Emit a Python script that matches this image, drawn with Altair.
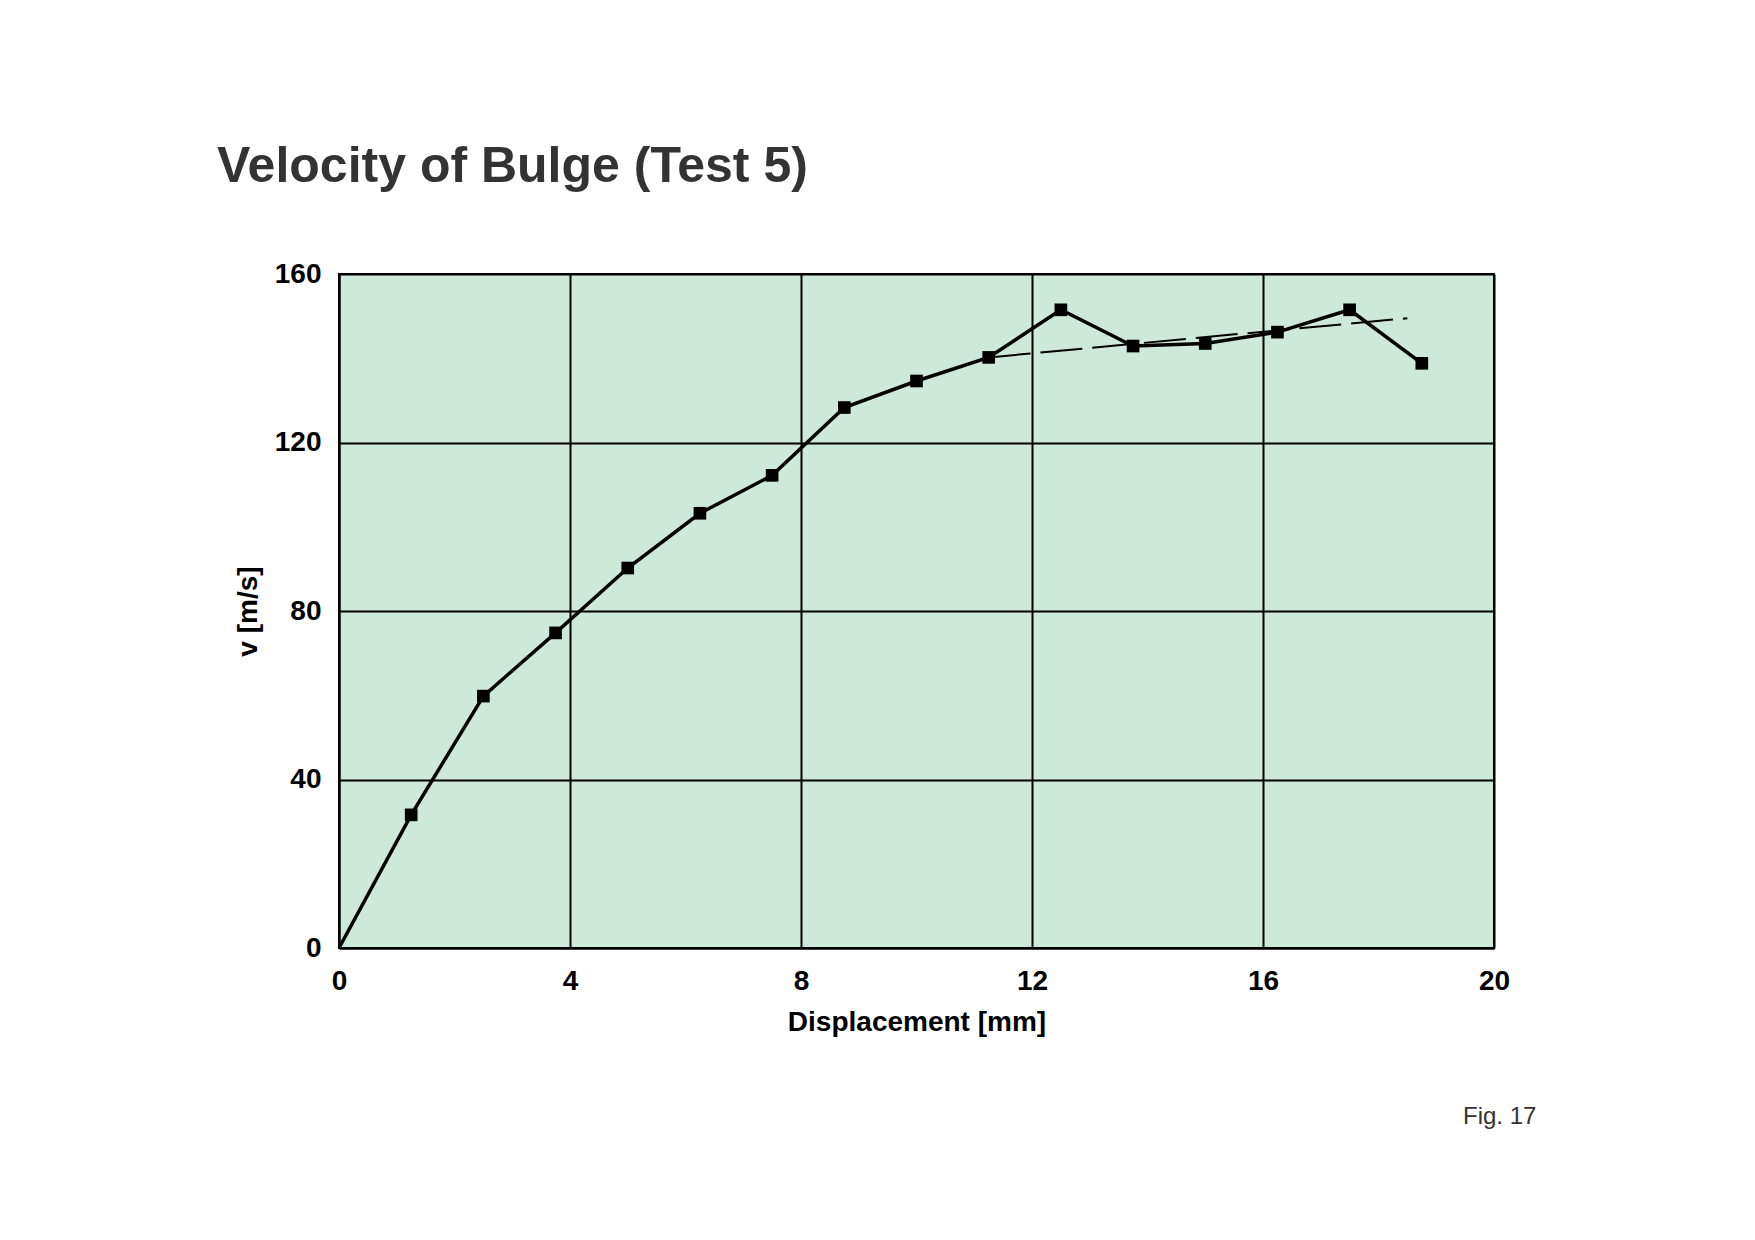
import altair as alt
import pandas as pd

# ---- data ----
displacement = [0, 1.25, 2.5, 3.75, 5.0, 6.25, 7.5, 8.75, 10.0, 11.25, 12.5, 13.75, 15.0, 16.25, 17.5, 18.75]
velocity = [0, 31.6, 59.8, 74.8, 90.2, 103.2, 112.2, 128.3, 134.6, 140.2, 151.5, 142.9, 143.5, 146.2, 151.5, 138.8]

trend_x = [11.25, 18.5]
trend_y = [140.2, 149.5]

x_ticks = [0, 4, 8, 12, 16, 20]
y_ticks = [0, 40, 80, 120, 160]

title_text = ["Velocity of Bulge (Test 5)"]
fig_text = ["Fig. 17"]

FONT = "Liberation Sans, Arial, Helvetica, sans-serif"

df = pd.DataFrame({"x": displacement, "v": velocity})
df_trend = pd.DataFrame({"x": trend_x, "v": trend_y})

x_enc = alt.X(
    "x:Q",
    scale=alt.Scale(domain=[0, 20], nice=False, zero=False),
    axis=alt.Axis(values=x_ticks, title="Displacement [mm]", format="d"),
)
y_enc = alt.Y(
    "v:Q",
    scale=alt.Scale(domain=[0, 160], nice=False),
    axis=alt.Axis(values=y_ticks, title="v [m/s]", format="d"),
)

line = alt.Chart(df).mark_line(color="black", strokeWidth=3.5).encode(x=x_enc, y=y_enc)
points = alt.Chart(df).transform_filter("datum.x > 0").mark_point(
    shape="square", filled=True, color="black", size=160, opacity=1
).encode(x=x_enc, y=y_enc)
trend = alt.Chart(df_trend).mark_line(
    color="black", strokeWidth=2, strokeDash=[42, 10]
).encode(x=x_enc, y=y_enc)

title = alt.Chart(pd.DataFrame({"t": title_text})).mark_text(
    align="left", baseline="alphabetic", fontSize=50, fontWeight="bold",
    font=FONT, color="#333333"
).encode(text="t:N", x=alt.value(-122), y=alt.value(-92))

fig = alt.Chart(pd.DataFrame({"t": fig_text})).mark_text(
    align="left", baseline="alphabetic", fontSize=24, font=FONT, color="#333333"
).encode(text="t:N", x=alt.value(1124), y=alt.value(850))

chart = (
    alt.layer(trend, line, points, title, fig)
    .properties(
        width=1155,
        height=674,
        autosize=alt.AutoSizeParams(type="none"),
        padding={"left": 339, "top": 274, "right": 261, "bottom": 292},
        background="white",
    )
    .configure_view(fill="#CDE9DA", stroke="black", strokeWidth=2)
    .configure_axis(
        grid=True,
        gridColor="black",
        gridWidth=2,
        gridOpacity=1,
        domain=True,
        domainColor="black",
        domainWidth=2,
        ticks=False,
        labelFont=FONT,
        labelFontSize=28,
        labelFontWeight="bold",
        labelColor="black",
        titleFont=FONT,
        titleFontSize=28,
        titleFontWeight="bold",
        titleColor="black",
    )
    .configure_axisX(labelPadding=19, titlePadding=13, labelFlush=False)
    .configure_axisY(labelPadding=18, titlePadding=12, labelFlush=False)
)

chart.save("out.html", embed_options={"renderer": "svg", "actions": False})
